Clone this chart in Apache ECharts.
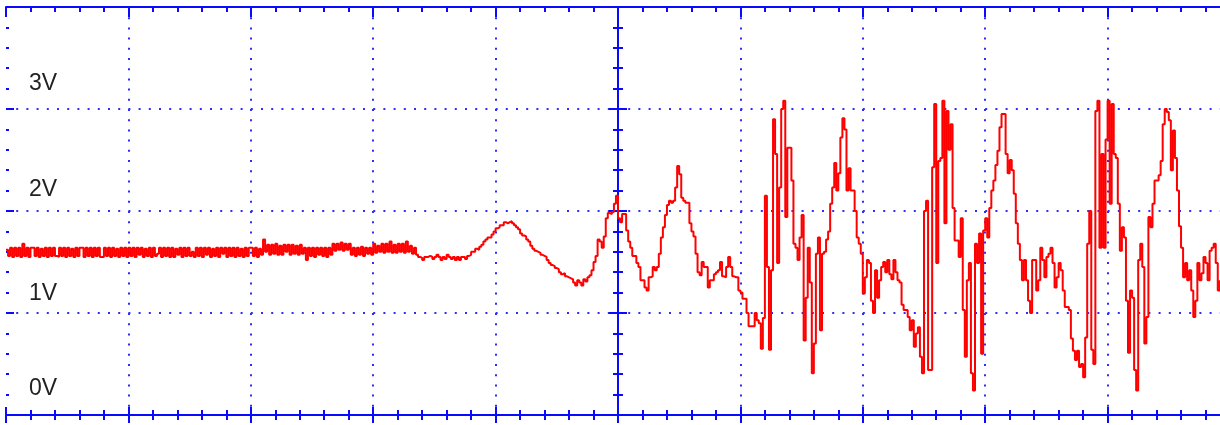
<!DOCTYPE html>
<html>
<head>
<meta charset="utf-8">
<title>scope trace</title>
<script src="https://cdn.jsdelivr.net/npm/echarts@6/dist/echarts.min.js"></script>
<style>
  html, body { margin: 0; padding: 0; background: #fff; }
  #scope { width: 1220px; height: 425px; }
</style>
</head>
<body>
<div id="scope"></div>
<script>
// voltage samples, one array per horizontal division (60 samples per division)
var div0 = [1.62,1.56,1.64,1.55,1.64,1.56,1.64,1.55,1.68,1.56,1.64,1.55,1.64,1.64,1.56,1.64,1.55,1.63,1.56,1.64,
            1.55,1.64,1.56,1.64,1.56,1.55,1.64,1.56,1.64,1.55,1.64,1.56,1.63,1.55,1.64,1.56,1.64,1.64,1.55,1.64,
            1.56,1.64,1.55,1.64,1.56,1.64,1.55,1.55,1.64,1.56,1.64,1.55,1.64,1.56,1.63,1.55,1.64,1.56,1.64,1.55];
var div1 = [1.64,1.56,1.64,1.55,1.64,1.57,1.64,1.55,1.63,1.56,1.64,1.55,1.64,1.56,1.58,1.64,1.55,1.64,1.56,1.64,
            1.55,1.64,1.55,1.63,1.57,1.64,1.55,1.64,1.56,1.64,1.56,1.60,1.55,1.64,1.56,1.64,1.55,1.64,1.57,1.64,
            1.55,1.63,1.56,1.64,1.55,1.64,1.58,1.64,1.55,1.64,1.56,1.64,1.55,1.64,1.56,1.63,1.55,1.64,1.56,1.64];
var div2 = [1.64,1.56,1.64,1.55,1.63,1.57,1.72,1.60,1.67,1.57,1.67,1.58,1.68,1.57,1.66,1.57,1.67,1.60,1.67,1.57,
            1.67,1.58,1.66,1.57,1.67,1.58,1.64,1.52,1.64,1.56,1.64,1.55,1.64,1.57,1.64,1.56,1.64,1.55,1.64,1.57,
            1.68,1.61,1.68,1.62,1.69,1.61,1.68,1.62,1.68,1.57,1.64,1.56,1.64,1.57,1.65,1.56,1.64,1.58,1.64,1.57];
var div3 = [1.68,1.59,1.66,1.60,1.68,1.59,1.68,1.60,1.70,1.59,1.67,1.59,1.68,1.60,1.68,1.59,1.70,1.60,1.66,1.58,
            1.64,1.57,1.55,1.54,1.52,1.55,1.55,1.56,1.55,1.53,1.55,1.57,1.55,1.52,1.55,1.53,1.57,1.55,1.53,1.55,
            1.52,1.55,1.52,1.55,1.55,1.53,1.56,1.57,1.60,1.60,1.63,1.62,1.65,1.67,1.70,1.72,1.74,1.74,1.77,1.80];
var div4 = [1.83,1.84,1.86,1.86,1.89,1.88,1.89,1.90,1.88,1.86,1.84,1.82,1.78,1.76,1.75,1.72,1.70,1.66,1.63,1.61,
            1.60,1.59,1.57,1.56,1.55,1.52,1.49,1.47,1.46,1.44,1.43,1.40,1.38,1.39,1.36,1.35,1.34,1.33,1.30,1.27,
            1.32,1.30,1.27,1.33,1.31,1.35,1.37,1.42,1.50,1.56,1.72,1.70,1.64,1.75,1.93,1.98,1.97,1.99,2.07,2.15];
var div5 = [1.93,1.89,1.97,1.97,1.81,1.70,1.64,1.56,1.56,1.49,1.45,1.32,1.32,1.25,1.22,1.35,1.36,1.45,1.42,1.45,
            1.58,1.74,1.84,1.96,2.06,2.10,2.08,2.10,2.23,2.44,2.36,2.13,2.10,2.08,2.08,1.88,1.80,1.75,1.58,1.40,
            1.37,1.50,1.45,1.45,1.25,1.32,1.32,1.38,1.40,1.42,1.50,1.36,1.35,1.45,1.55,1.45,1.36,1.35,1.35,1.22];
var div6 = [1.20,1.14,1.14,1.00,0.87,0.87,0.87,1.00,0.93,0.90,0.65,0.95,2.15,1.45,0.64,1.42,2.90,2.56,1.49,2.23,
            3.00,3.08,1.94,2.62,2.62,2.30,1.68,1.64,1.52,1.74,1.96,0.73,1.15,1.64,1.30,0.41,0.70,1.58,1.74,0.83,
            1.58,1.60,1.72,1.80,2.07,2.23,2.47,2.20,2.37,2.72,2.91,2.80,2.20,2.42,2.20,2.20,2.00,1.74,1.68,1.58];
var div7 = [1.19,1.35,1.52,1.49,1.12,1.00,1.42,1.15,1.32,1.45,1.50,1.40,1.52,1.38,1.33,1.52,1.40,1.32,1.30,1.08,
            1.03,1.03,0.96,0.83,0.93,0.67,0.80,0.86,0.57,0.41,2.00,2.10,0.44,0.44,2.43,3.05,1.49,2.49,2.52,3.08,
            1.88,2.98,2.60,2.85,2.03,1.71,1.71,1.55,1.93,1.03,0.57,1.32,1.49,0.41,0.24,1.68,1.49,1.78,0.60,1.81];
var div8 = [1.93,1.74,2.03,2.20,2.30,2.45,2.59,2.82,2.95,2.95,2.56,2.37,2.50,2.40,2.17,1.88,1.68,1.52,1.32,1.52,
            1.32,1.12,1.00,1.52,1.52,1.22,1.32,1.64,1.52,1.35,1.55,1.58,1.64,1.49,1.25,1.35,1.49,1.42,1.22,1.06,
            1.06,1.03,0.75,0.63,0.54,0.63,0.47,0.50,0.37,0.76,1.68,2.00,0.64,0.50,2.98,3.08,1.64,2.56,1.64,2.70];
var div9 = [3.08,2.07,3.05,2.56,2.52,2.07,1.61,1.84,1.74,1.12,0.61,1.22,1.15,0.44,0.24,1.52,1.68,1.45,0.70,0.96,
            1.94,1.84,2.07,2.30,2.30,2.35,2.49,2.85,3.00,2.97,2.89,2.40,2.79,2.52,2.20,1.85,1.64,1.35,1.49,1.32,
            1.42,1.22,0.96,1.12,1.49,1.32,1.39,1.55,1.49,1.32,1.61,1.64,1.68,1.49,1.22,1.32];

var divisions = [div0, div1, div2, div3, div4, div5, div6, div7, div8, div9];
var samplesPerDiv = 60;
var voltLabels = ['3V', '2V', '1V', '0V'];

var BLUE = '#0a0aff';
var DOT = '#2d2dff';

// build [time, volts] pairs, time in divisions from the centre line
var trace = [];
divisions.forEach(function (arr, d) {
  arr.forEach(function (v, i) {
    trace.push([-5 + d + i / samplesPerDiv, v]);
  });
});

var chart = echarts.init(document.getElementById('scope'));

var dotted = { show: true, showMinLine: false, showMaxLine: false,
  lineStyle: { color: DOT, width: 2, type: [2, 8.2] } };

function xAx(pos, inside, len, minorLen, grid) {
  return {
    type: 'value', min: -5, max: 5, interval: 1, position: pos,
    axisLine: { show: true, onZero: false, lineStyle: { color: BLUE, width: 2 } },
    axisTick: { show: true, inside: inside, length: len, lineStyle: { color: BLUE, width: 2 } },
    minorTick: { show: true, splitNumber: 5, length: minorLen, lineStyle: { color: BLUE, width: 2 } },
    axisLabel: { show: false },
    splitLine: grid ? dotted : { show: false }
  };
}

function yAx(showLine, onZero, inside, len, minorLen, grid) {
  return {
    type: 'value', min: 0, max: 4, interval: 1, position: 'left',
    axisLine: { show: showLine, onZero: onZero, onZeroAxisIndex: 0, lineStyle: { color: BLUE, width: 2 } },
    axisTick: { show: true, inside: inside, length: len, lineStyle: { color: BLUE, width: 2 } },
    minorTick: { show: true, splitNumber: 5, length: minorLen, lineStyle: { color: BLUE, width: 2 } },
    axisLabel: { show: false },
    splitLine: grid ? dotted : { show: false }
  };
}

var labelY = [84, 190, 294, 389];

chart.setOption({
  animation: false,
  backgroundColor: '#fff',
  grid: { left: 6, top: 7, width: 1224, height: 408, outerBoundsMode: 'none' },
  xAxis: [
    xAx('bottom', false, 8, 5, true),
    xAx('bottom', true, 8, 5, false),
    xAx('top', true, 10, 5, false)
  ],
  yAxis: [
    yAx(true, true, true, 9, 5, true),   // centre line, ticks to the right
    yAx(true, true, false, 9, 5, false), // centre line, ticks to the left
    yAx(false, false, true, 8, 3, false) // left edge ticks
  ],
  graphic: voltLabels.map(function (t, k) {
    return {
      type: 'text', x: 29, y: labelY[k], z: 10,
      style: { text: t, fill: '#222', font: '23px "Liberation Sans", Arial, sans-serif', verticalAlign: 'middle' }
    };
  }),
  series: [{
    type: 'line',
    xAxisIndex: 0,
    yAxisIndex: 0,
    step: 'end',
    showSymbol: false,
    symbol: 'none',
    lineStyle: { color: '#ff0000', width: 2 },
    data: trace,
    z: 5
  }]
});
</script>
</body>
</html>
